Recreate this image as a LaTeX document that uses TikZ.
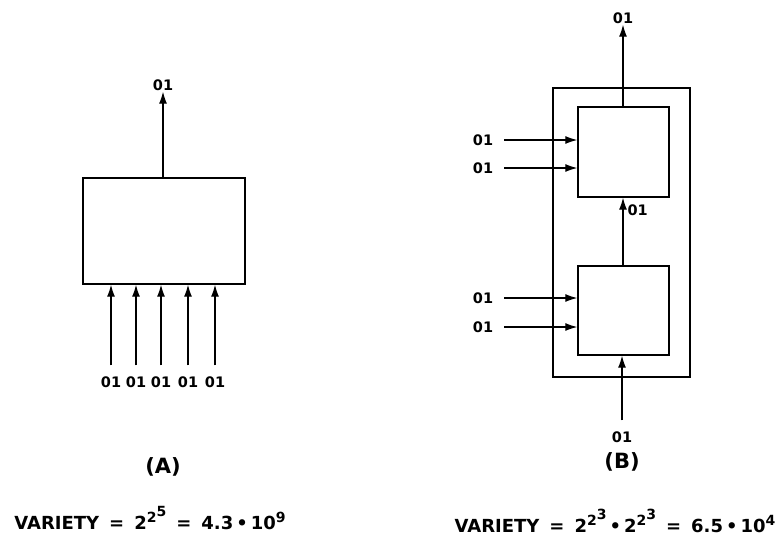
\documentclass[tikz,border=0pt]{standalone}
\usepackage{fontspec}
\setmainfont{DejaVu Sans}
\usetikzlibrary{arrows.meta,positioning}
\newcommand\upper[1]{\raisebox{.7ex}{\fontsize{14}{14}\selectfont #1}}
\newcommand\gap{\hspace{10pt}}

\begin{document}
\begin{tikzpicture}[x=1pt,y=-1pt,font=\fontsize{14.5}{17}\selectfont\bfseries,
box/.style={draw,line width=1.4pt,inner sep=0pt},
lbl/.style={inner sep=1pt},
arrow/.style={-{Latex[length=12pt,width=8pt]},line width=1.2pt},
title/.style={font=\fontsize{21}{25}\selectfont\bfseries},
sum/.style={font=\fontsize{18}{22}\selectfont\bfseries}]
\useasboundingbox (0,0) rectangle (784,535);
% (A) one box, five inputs
\node[box,minimum width=162pt,minimum height=106pt](ba) at (164,231){};
\node[lbl](oa) at (163,85){01};
\draw[arrow](ba.north -| oa)--(oa.south);
\foreach \i/\x in {1/111,2/136,3/161,4/188,5/215}{
  \node[lbl](ia\i) at (\x,382){01};
  \draw[arrow,shorten <=10pt](ia\i.north)--(ia\i.north |- ba.south);}
\node[title](ta) at (163,467){(A)};
\node[sum](va) at (150,518){VARIETY\gap=\gap2\upper{2\upper{5}}\gap=\gap4.3\,\textbullet\,10\upper{9}};
% (B) two boxes in a frame
\node[box,minimum width=137pt,minimum height=289pt](frame) at (621.5,232.5){};
\node[box,minimum width=91pt,minimum height=90pt](up) at (623.5,152){};
\node[box,minimum width=91pt,minimum height=89pt](lo) at (623.5,310.5){};
\node[lbl](ob) at (623,18){01};
\draw[arrow](up.north -| ob)--(ob.south);
\draw[arrow](lo.north -| ob)--(up.south -| ob) node[lbl,pos=.82,anchor=west,xshift=3pt]{01};
\foreach \n/\y/\b in {u1/140/up,u2/168/up,l1/298/lo,l2/327/lo}{
  \node[lbl](i\n) at (483,\y){01};
  \draw[arrow,shorten <=10pt](i\n.east)--(i\n.east -| \b.west);}
\node[lbl](ib) at (622,437){01};
\draw[arrow,shorten <=10pt](ib.north)--(ib.north |- lo.south);
\node[title](tb) at (622,462){(B)};
\node[sum](vb) at (615,521){VARIETY\gap=\gap2\upper{2\upper{3}}\,\textbullet\,2\upper{2\upper{3}}\gap=\gap6.5\,\textbullet\,10\upper{4}};
\end{tikzpicture}
\end{document}
